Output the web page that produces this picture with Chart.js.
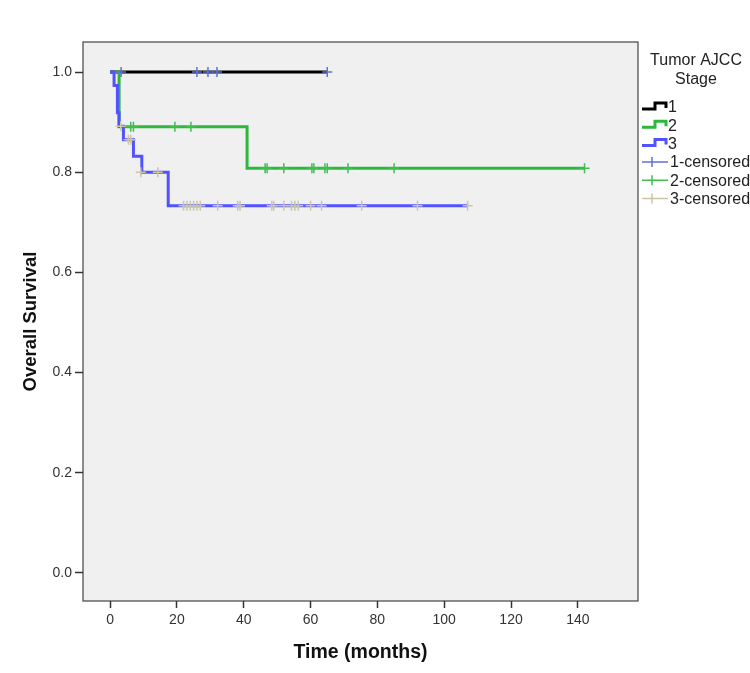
<!DOCTYPE html>
<html>
<head>
<meta charset="utf-8">
<script src="https://cdn.jsdelivr.net/npm/chart.js@4"></script>
<style>
  html, body { margin: 0; padding: 0; background: #fff; }
  #wrap { width: 750px; height: 673px; }
</style>
</head>
<body>
<div id="wrap"><canvas id="kmChart" width="750" height="673"></canvas></div>
<script>
// survival steps per stage (time in months, survival after the event)
const stage1Time = [0, 65];
const stage1Surv = [1.0, 1.0];
const stage2Time = [0, 2.7, 41, 142];
const stage2Surv = [1.0, 0.891, 0.808, 0.808];
const stage3Time = [0, 1.2, 2.2, 2.7, 4, 7, 9.5, 17.4, 107];
const stage3Surv = [1.0, 0.973, 0.919, 0.892, 0.865, 0.832, 0.800, 0.733, 0.733];

// censored observations
const cens1Time = [3.3, 26, 29.3, 32, 65];
const cens1Surv = [1, 1, 1, 1, 1];
const cens2Time = [6.2, 7, 19.4, 24.2, 46.4, 47, 52, 60.4, 61, 64.3, 65, 71.2, 85, 142];
const cens2Surv = [0.891, 0.891, 0.891, 0.891, 0.808, 0.808, 0.808, 0.808, 0.808, 0.808, 0.808, 0.808, 0.808, 0.808];
const cens3Time = [3.2, 5.5, 6.2, 9.2, 14.3, 22, 23, 24, 25, 26, 27, 32.2, 38.2, 38.9, 48.4, 49, 52, 54.3, 55.3, 56.3, 60, 63.3, 75.3, 92, 107];
const cens3Surv = [0.892, 0.865, 0.865, 0.800, 0.800, 0.733, 0.733, 0.733, 0.733, 0.733, 0.733, 0.733, 0.733, 0.733, 0.733, 0.733, 0.733, 0.733, 0.733, 0.733, 0.733, 0.733, 0.733, 0.733, 0.733];

const xTicks = [0, 20, 40, 60, 80, 100, 120, 140];
const yTicks = [0, 0.2, 0.4, 0.6, 0.8, 1.0];

const legendLabels = ['1', '2', '3', '1-censored', '2-censored', '3-censored'];

const colBlack = '#000000';
const colGreen = '#2db83d';
const colBlue = '#5252ff';
const colCens1 = '#5f72d4';
const colCens2 = '#3fbf52';
const colCens3 = '#cac6a6';

function toPoints(xs, ys) {
    return xs.map((x, i) => ({ x: x, y: ys[i] }));
}

function stepLine(label, xs, ys, color, order) {
    return {
        type: 'line',
        label: label,
        data: toPoints(xs, ys),
        borderColor: color,
        borderWidth: 3,
        stepped: 'before',
        pointRadius: 0,
        fill: false,
        order: order
    };
}

function censored(label, xs, ys, color) {
    return {
        type: 'scatter',
        label: label,
        data: toPoints(xs, ys),
        pointStyle: 'cross',
        pointRadius: 5,
        borderColor: color,
        borderWidth: 1.5,
        backgroundColor: color,
        order: 0
    };
}

const plotBg = {
    id: 'plotBg',
    beforeDraw(chart) {
        const { ctx, chartArea: a } = chart;
        ctx.save();
        ctx.fillStyle = '#ffffff';
        ctx.fillRect(0, 0, chart.width, chart.height);
        ctx.fillStyle = '#f0f0f0';
        ctx.fillRect(a.left, a.top, a.right - a.left, a.bottom - a.top);
        ctx.strokeStyle = '#444';
        ctx.lineWidth = 1.2;
        ctx.strokeRect(a.left, a.top, a.right - a.left, a.bottom - a.top);
        ctx.restore();
    }
};

// SPSS style legend on the right
const kmLegend = {
    id: 'kmLegend',
    afterDraw(chart) {
        const ctx = chart.ctx;
        const colors = [colBlack, colGreen, colBlue, colCens1, colCens2, colCens3];
        ctx.save();
        ctx.fillStyle = '#222';
        ctx.font = '16px "Liberation Sans", Arial, sans-serif';
        ctx.textAlign = 'center';
        ctx.textBaseline = 'middle';
        ctx.fillText('Tumor AJCC', 696, 61);
        ctx.fillText('Stage', 696, 80);
        ctx.textAlign = 'left';
        legendLabels.forEach((lab, i) => {
            const y = 107 + i * 18.3;
            ctx.strokeStyle = colors[i];
            if (i < 3) {
                ctx.lineWidth = 3;
                ctx.beginPath();
                ctx.moveTo(642, y + 2);
                ctx.lineTo(655, y + 2);
                ctx.lineTo(655, y - 4);
                ctx.lineTo(666, y - 4);
                ctx.lineTo(666, y + 1);
                ctx.stroke();
            } else {
                ctx.lineWidth = 1.5;
                ctx.beginPath();
                ctx.moveTo(642, y);
                ctx.lineTo(668, y);
                ctx.moveTo(652, y - 5);
                ctx.lineTo(652, y + 5);
                ctx.stroke();
            }
            ctx.fillStyle = '#222';
            ctx.fillText(lab, i < 3 ? 668 : 670, y + 1);
        });
        ctx.restore();
    }
};

const ctx = document.getElementById('kmChart').getContext('2d');
new Chart(ctx, {
    data: {
        datasets: [
            censored('1-censored', cens1Time, cens1Surv, colCens1),
            censored('2-censored', cens2Time, cens2Surv, colCens2),
            censored('3-censored', cens3Time, cens3Surv, colCens3),
            stepLine('3', stage3Time, stage3Surv, colBlue, 1),
            stepLine('2', stage2Time, stage2Surv, colGreen, 2),
            stepLine('1', stage1Time, stage1Surv, colBlack, 3)
        ]
    },
    options: {
        responsive: false,
        animation: false,
        layout: { padding: { top: 42, right: 112, bottom: 0, left: 0 } },
        plugins: {
            legend: { display: false },
            tooltip: { enabled: false }
        },
        scales: {
            x: {
                type: 'linear',
                min: -8.1,
                max: 158,
                afterFit: s => { s.height = 72; },
                afterBuildTicks: s => { s.ticks = xTicks.map(v => ({ value: v })); },
                grid: { drawOnChartArea: false, tickLength: 7, tickColor: '#333', tickWidth: 1.5 },
                border: { display: false },
                ticks: {
                    color: '#333',
                    padding: 4,
                    maxRotation: 0,
                    font: { family: '"Liberation Sans", Arial, sans-serif', size: 14 }
                },
                title: {
                    display: true,
                    text: 'Time (months)',
                    color: '#111',
                    padding: { top: 0, bottom: 9 },
                    font: { family: '"Liberation Sans", Arial, sans-serif', size: 19.5, weight: 'bold' }
                }
            },
            y: {
                type: 'linear',
                min: -0.056,
                max: 1.06,
                afterFit: s => { s.width = 83; },
                afterBuildTicks: s => { s.ticks = yTicks.map(v => ({ value: v })); },
                grid: { drawOnChartArea: false, tickLength: 8, tickColor: '#333', tickWidth: 1.5 },
                border: { display: false },
                ticks: {
                    color: '#333',
                    padding: 3,
                    font: { family: '"Liberation Sans", Arial, sans-serif', size: 14 },
                    callback: v => v.toFixed(1)
                },
                title: {
                    display: true,
                    text: 'Overall Survival',
                    color: '#111',
                    padding: { top: 20, bottom: 0 },
                    font: { family: '"Liberation Sans", Arial, sans-serif', size: 18.5, weight: 'bold' }
                }
            }
        }
    },
    plugins: [plotBg, kmLegend]
});
</script>
</body>
</html>
